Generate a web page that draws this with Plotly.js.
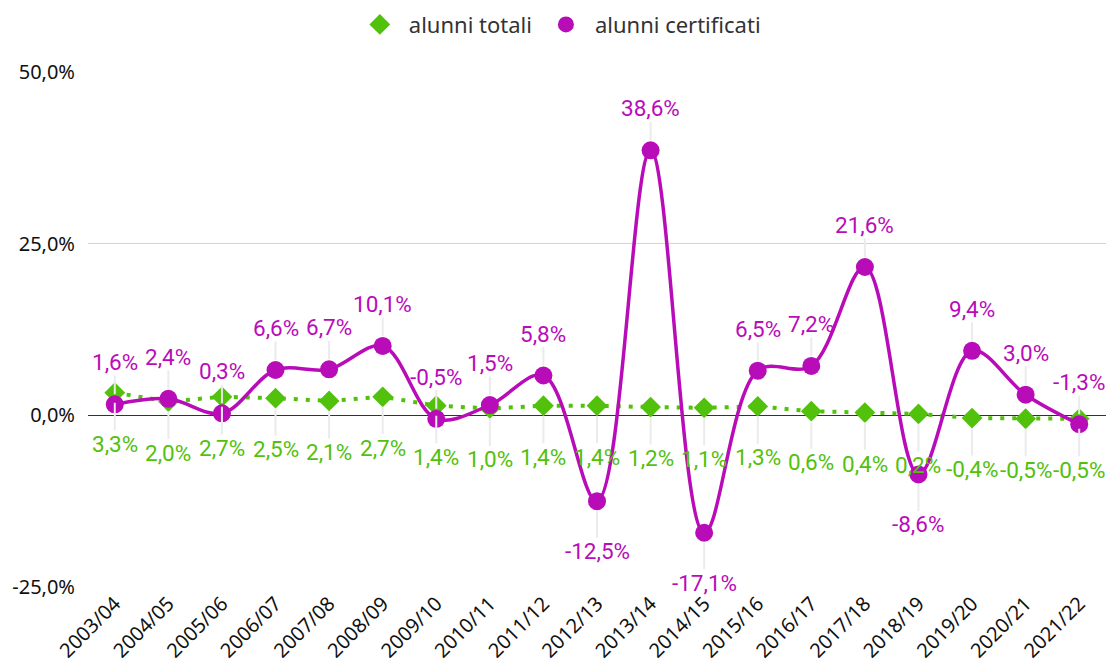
<!DOCTYPE html>
<html>
<head>
<meta charset="utf-8">
<script src="https://cdn.plot.ly/plotly-3.0.1.min.js"></script>
<style>html,body{margin:0;padding:0;background:#fff;}#chart{width:1110px;height:666px;}</style>
</head>
<body>
<div id="chart"></div>
<script>
const years = ["2003/04","2004/05","2005/06","2006/07","2007/08","2008/09","2009/10","2010/11","2011/12","2012/13","2013/14","2014/15","2015/16","2016/17","2017/18","2018/19","2019/20","2020/21","2021/22"];
const alunniTotali = [3.3, 2.0, 2.7, 2.5, 2.1, 2.7, 1.4, 1.0, 1.4, 1.4, 1.2, 1.1, 1.3, 0.6, 0.4, 0.2, -0.4, -0.5, -0.5];
const alunniCertificati = [1.6, 2.4, 0.3, 6.6, 6.7, 10.1, -0.5, 1.5, 5.8, -12.5, 38.6, -17.1, 6.5, 7.2, 21.6, -8.6, 9.4, 3.0, -1.3];
const yTickVals = [-25, 0, 25, 50];
const yTickText = ["-25,0%", "0,0%", "25,0%", "50,0%"];
const seriesNames = ["alunni totali", "alunni certificati"];

const GREEN = '#52c10c';
const MAGENTA = '#b90cb9';
const fmt = v => v.toFixed(1).replace('.', ',') + '%';

const traces = [
  {x: years, y: alunniTotali, type: 'scatter', mode: 'lines+markers', showlegend: false,
   line: {color: GREEN, width: 4, dash: '4px,8px'},
   marker: {symbol: 'diamond', size: 16, color: GREEN}},
  {x: years, y: alunniCertificati, type: 'scatter', mode: 'lines+markers', showlegend: false,
   line: {color: MAGENTA, width: 3.5, shape: 'spline', smoothing: 1},
   marker: {symbol: 'circle', size: 18, color: MAGENTA}},
  {x: [null], y: [null], type: 'scatter', mode: 'markers', name: seriesNames[0],
   marker: {symbol: 'diamond', size: 22, color: GREEN}},
  {x: [null], y: [null], type: 'scatter', mode: 'markers', name: seriesNames[1],
   marker: {symbol: 'circle', size: 24, color: MAGENTA}}
];

const annotations = [];
const lbl = (x, y, text, color, ay) => ({
  x: x, y: y, xref: 'x', yref: 'y', text: text, showarrow: true,
  ax: 0, ay: ay, arrowhead: 0, arrowwidth: 2, arrowcolor: '#ebebeb',
  standoff: 10, borderpad: 0,
  font: {family: 'Roboto, sans-serif', size: 22.5, color: color}
});
years.forEach((yr, i) => {
  annotations.push(lbl(yr, alunniTotali[i], fmt(alunniTotali[i]), GREEN, 51));
  const v = alunniCertificati[i];
  annotations.push(lbl(yr, v, fmt(v), MAGENTA, v < -5 ? 50 : -42));
});

const layout = {
  width: 1110, height: 666,
  margin: {l: 88, r: 4, t: 72, b: 79},
  paper_bgcolor: '#fff', plot_bgcolor: '#fff',
  showlegend: true,
  legend: {orientation: 'h', xref: 'container', x: 0.503, xanchor: 'center',
    yref: 'container', y: 0.963, yanchor: 'middle', itemwidth: 48,
    font: {family: 'Noto Sans, sans-serif', size: 22, color: '#333'},
    traceorder: 'normal'},
  xaxis: {type: 'category', range: [-0.5, 18.5], showgrid: false, zeroline: false,
    showline: false, ticks: '', tickangle: -45, automargin: false,
    tickfont: {family: 'Noto Sans, sans-serif', size: 20, color: '#111'}},
  yaxis: {range: [-25, 50], tickvals: yTickVals, ticktext: yTickText,
    showgrid: true, gridcolor: '#d4d4d4', gridwidth: 1.5,
    zeroline: true, zerolinecolor: '#333', zerolinewidth: 1.5,
    showline: false, ticks: '', ticklabelstandoff: 12, automargin: false,
    tickfont: {family: 'Noto Sans, sans-serif', size: 20, color: '#111'}},
  annotations: annotations
};
Plotly.newPlot('chart', traces, layout, {displayModeBar: false, staticPlot: true});
</script>
</body>
</html>
